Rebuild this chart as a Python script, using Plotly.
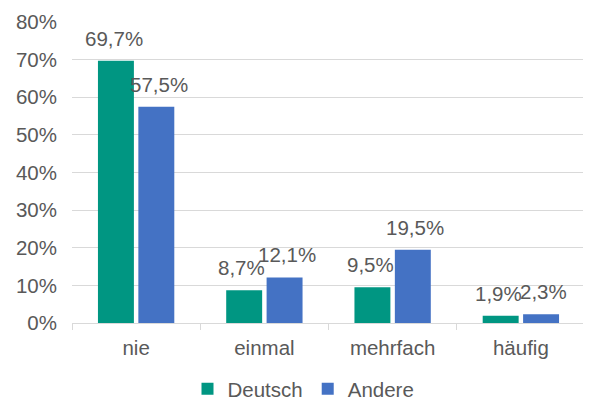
import plotly.graph_objects as go

categories = ["nie", "einmal", "mehrfach", "häufig"]
deutsch = [69.7, 8.7, 9.5, 1.9]
andere = [57.5, 12.1, 19.5, 2.3]
y_ticks = [0, 10, 20, 30, 40, 50, 60, 70, 80]
y_tick_labels = [f"{v}%" for v in y_ticks]

GREEN = "#009682"
BLUE = "#4472C4"
TEXT = "#595959"
GRID = "#D9D9D9"
FONT = "Liberation Sans, Arial, sans-serif"
FS = 20.5

fig = go.Figure()
fig.add_trace(go.Bar(x=categories, y=deutsch, name="Deutsch",
                     marker=dict(color=GREEN, line=dict(width=0))))
fig.add_trace(go.Bar(x=categories, y=andere, name="Andere",
                     marker=dict(color=BLUE, line=dict(width=0))))

# data labels above each bar
for series, shift in ((deutsch, -22.5), (andere, 22.5)):
    for cat, val in zip(categories, series):
        fig.add_annotation(
            x=cat, y=val, xshift=shift, yshift=9,
            text=f"{val:.1f}%".replace(".", ","),
            showarrow=False, yanchor="bottom",
            font=dict(size=FS, color=TEXT, family=FONT),
        )

# page body adds an 8px offset, margins compensate for it
fig.update_layout(
    width=591, height=403, autosize=False,
    paper_bgcolor="white", plot_bgcolor="white",
    font=dict(family=FONT, size=FS, color=TEXT),
    margin=dict(l=64, r=14, t=14, b=88, autoexpand=False),
    barmode="group", bargap=0.37, bargroupgap=0.11,
    xaxis=dict(
        showgrid=False, showline=True, linecolor=GRID, linewidth=1,
        ticks="outside", tickson="boundaries", ticklen=6, tickcolor=GRID,
        tickfont=dict(size=FS, color=TEXT), automargin=False, ticklabelstandoff=6,
    ),
    yaxis=dict(
        range=[0, 80], tickmode="array", tickvals=y_ticks, ticktext=y_tick_labels,
        showgrid=True, gridcolor=GRID, gridwidth=1, zeroline=False,
        tickfont=dict(size=FS, color=TEXT), automargin=False, ticklabelstandoff=14,
    ),
    legend=dict(orientation="h", x=0.50, xref="container", xanchor="center",
                y=0.055, yref="container", yanchor="middle",
                font=dict(size=FS, color=TEXT), traceorder="normal",
                itemwidth=30, tracegroupgap=0),
)

fig.write_html("out.html")
